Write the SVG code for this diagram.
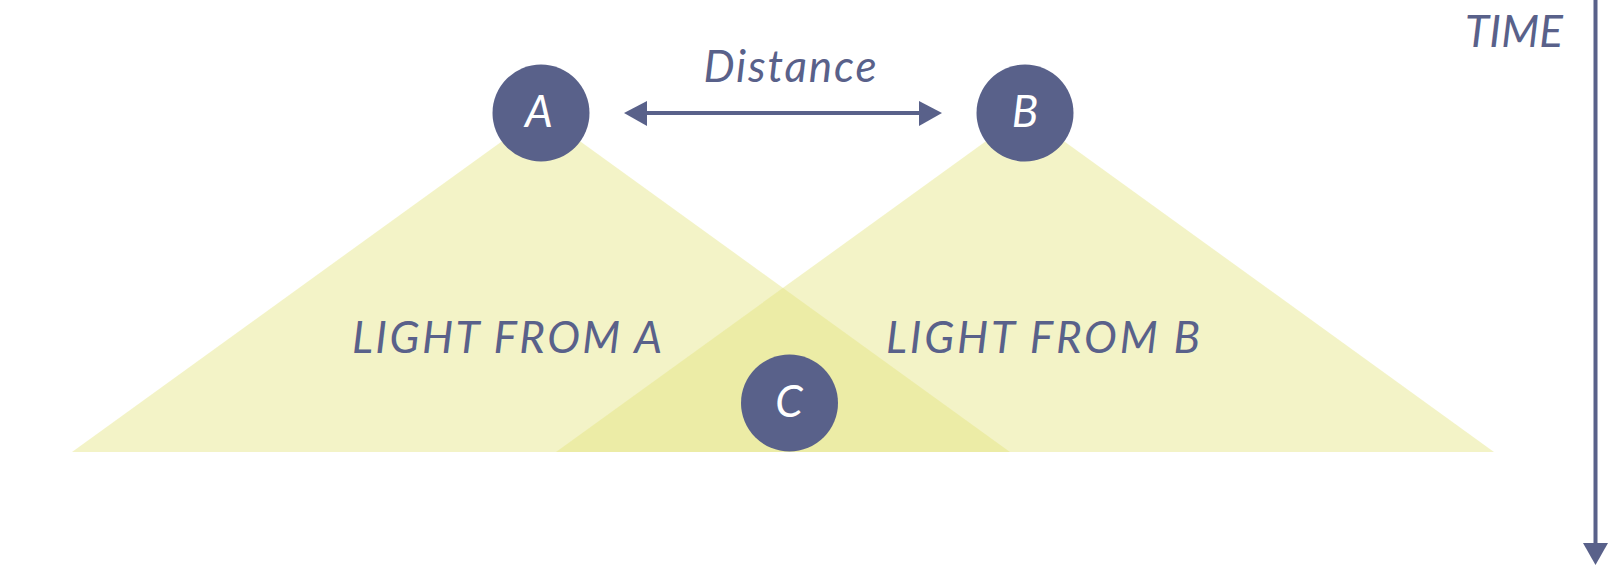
<svg xmlns="http://www.w3.org/2000/svg" width="1609" height="566" viewBox="0 0 1609 566">
<style>
.light{fill:#e2e27a;fill-opacity:0.42}
.node{fill:#59618a}
.nlabel{font-family:Lato,"Open Sans",sans-serif;font-style:italic;font-size:44px;fill:#ffffff;text-anchor:middle}
.label{font-family:Lato,"Open Sans",sans-serif;font-style:italic;font-size:44px;fill:#59618a;text-anchor:middle}
.conn{stroke:#59618a;stroke-width:4;fill:none}
.head{fill:#59618a}
</style>
<rect width="1609" height="566" fill="#ffffff"/>
<g id="light-a"><polygon class="light" points="541,113 72,452 1010,452"/></g>
<g id="light-b"><polygon class="light" points="1025,113 556,452 1494,452"/></g>
<text class="label" x="507" y="353" textLength="310" lengthAdjust="spacing">LIGHT FROM A</text>
<text class="label" x="1043" y="353" textLength="314" lengthAdjust="spacing">LIGHT FROM B</text>
<g id="connectors">
<line class="conn" x1="640" y1="113" x2="926" y2="113"/>
<polygon class="head" points="624,113 647,101 647,126"/>
<polygon class="head" points="942,113 919,101 919,126"/>
<text class="label" x="790" y="82" textLength="173" lengthAdjust="spacing">Distance</text>
<line class="conn" x1="1595.5" y1="0" x2="1595.5" y2="546"/>
<polygon class="head" points="1595.5,565 1583,543 1608,543"/>
<text class="label" x="1514" y="47" textLength="98" lengthAdjust="spacing">TIME</text>
</g>
<g id="node-a"><circle class="node" cx="541" cy="113" r="48.5"/><text class="nlabel" x="539" y="127">A</text></g>
<g id="node-b"><circle class="node" cx="1025" cy="113" r="48.5"/><text class="nlabel" x="1025" y="127">B</text></g>
<g id="node-c"><circle class="node" cx="789.5" cy="403" r="48.5"/><text class="nlabel" x="789" y="417">C</text></g>
</svg>
